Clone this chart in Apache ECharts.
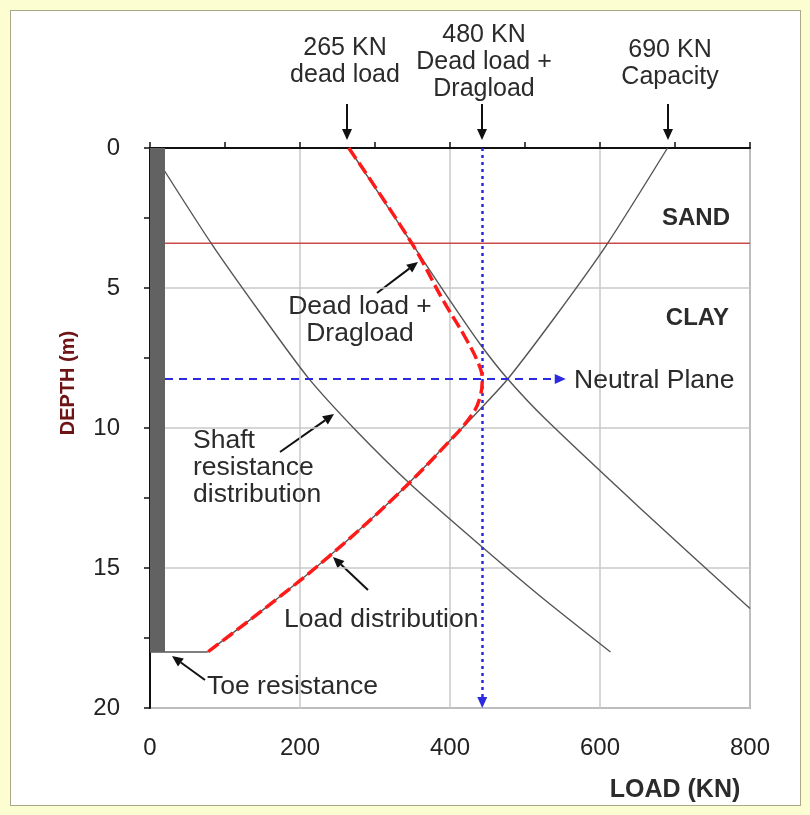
<!DOCTYPE html>
<html>
<head>
<meta charset="utf-8">
<script src="https://cdn.jsdelivr.net/npm/echarts@6/dist/echarts.min.js"></script>
<style>
  body { margin: 0; background: #fdfdd2; }
  #panel { position: absolute; left: 10px; top: 10px; width: 791px; height: 796px; background: #fff; border: 1.5px solid #a9a98a; box-sizing: border-box; }
  #chart { position: absolute; left: 0; top: 0; width: 810px; height: 815px; }
</style>
</head>
<body>
<div id="panel"></div>
<div id="chart"></div>
<script>
// axis ticks
const loadTicks = [0, 200, 400, 600, 800];
const depthTicks = [0, 5, 10, 15, 20];

// [load kN, depth m]
const pileShaft = [[10, 0], [10, 18]];
const toeLine = [[0, 18], [77, 18]];
const shaftResistance = [[0, 0], [83, 3.46], [150, 6], [211, 8.21], [274, 10.07], [347, 12], [432, 14], [520, 16], [614, 18]];
const deadPlusShaft = [[265, 0], [349, 3.4], [400, 5.45], [440, 7], [477, 8.25], [528, 9.7], [655, 12.9], [800, 16.45]];
const capacityCurve = [[690, 0], [609, 3.45], [541, 6], [477, 8.25], [443, 9.25], [400, 10.45], [325, 12.5], [238, 14.6], [160, 16.3], [77, 18]];
const loadDistribution = [[265, 0], [349, 3.4], [391, 5.45], [420, 6.75], [438, 7.7], [443, 8.25], [440, 8.9], [430, 9.5], [400, 10.45], [325, 12.5], [238, 14.6], [160, 16.3], [77, 18]];

const sandClayDepth = 3.4;
const neutralDepth = 8.25;
const maxLoad = 443;
const neutralArrowEnd = 547;

const FONT = "'Liberation Sans', Arial, sans-serif";
const TXT = '#2b2b2b';

function label(text, x, y, opts = {}) {
  return {
    type: 'text', x, y, z: 50,
    rotation: opts.rotation || 0,
    style: {
      text, fill: opts.color || TXT,
      font: `${opts.bold ? 'bold ' : ''}${opts.size || 26.5}px ${FONT}`,
      align: opts.align || 'center', verticalAlign: 'middle',
      lineHeight: opts.lineHeight || 27
    }
  };
}

// little black pointer arrow for the annotations
function pointer(x1, y1, x2, y2) {
  const a = Math.atan2(y2 - y1, x2 - x1);
  const len = 11, half = 5;
  const bx = x2 - len * Math.cos(a), by = y2 - len * Math.sin(a);
  const px = -Math.sin(a) * half, py = Math.cos(a) * half;
  return {
    type: 'group', z: 50,
    children: [
      { type: 'line', shape: { x1, y1, x2: bx, y2: by }, style: { stroke: '#111', lineWidth: 2 } },
      { type: 'polygon', shape: { points: [[x2, y2], [bx + px, by + py], [bx - px, by - py]] }, style: { fill: '#111' } }
    ]
  };
}

const chart = echarts.init(document.getElementById('chart'));

const grayLine = { color: '#555', width: 1.4 };

const option = {
  animation: false,
  backgroundColor: 'transparent',
  grid: { left: 150, top: 148, width: 600, height: 560, show: true, borderColor: '#7a7a7a', borderWidth: 1.5, backgroundColor: '#fff' },
  xAxis: [
    {
      type: 'value', position: 'bottom', min: loadTicks[0], max: loadTicks[loadTicks.length - 1], interval: 200,
      axisLine: { show: true, lineStyle: { color: '#7a7a7a', width: 1.5 } },
      axisTick: { show: false },
      axisLabel: { fontSize: 24, fontFamily: FONT, color: '#222', margin: 28 },
      splitLine: { show: true, lineStyle: { color: '#c9c9c9', width: 1.5 } }
    },
    {
      type: 'value', position: 'top', min: 0, max: 800, interval: 100,
      axisLine: { show: true, lineStyle: { color: '#111', width: 2 } },
      axisTick: { show: true, length: 6, lineStyle: { color: '#111', width: 1.5 } },
      axisLabel: { show: false },
      splitLine: { show: false }
    }
  ],
  yAxis: {
    type: 'value', inverse: true, min: depthTicks[0], max: depthTicks[depthTicks.length - 1], interval: 5,
    axisLine: { show: true, lineStyle: { color: '#111', width: 2 } },
    axisTick: { show: true, length: 6, lineStyle: { color: '#111', width: 1.5 } },
    minorTick: { show: true, splitNumber: 2, length: 6, lineStyle: { color: '#111', width: 1.5 } },
    axisLabel: { fontSize: 24, fontFamily: FONT, color: '#222', margin: 30 },
    splitLine: { show: true, lineStyle: { color: '#c9c9c9', width: 1.5 } }
  },
  series: [
    {
      name: 'Sand/Clay', type: 'line', data: [[20, sandClayDepth], [800, sandClayDepth]],
      symbol: 'none', lineStyle: { color: '#cc4a4a', width: 1.5 }, z: 3
    },
    { name: 'Shaft resistance', type: 'line', data: shaftResistance, smooth: 0.25, symbol: 'none', lineStyle: grayLine, z: 4 },
    { name: 'Dead load + shaft', type: 'line', data: deadPlusShaft, smooth: 0.25, symbol: 'none', lineStyle: grayLine, z: 4 },
    { name: 'Capacity', type: 'line', data: capacityCurve, smooth: 0.25, symbol: 'none', lineStyle: grayLine, z: 4 },
    { name: 'Toe', type: 'line', data: toeLine, symbol: 'none', lineStyle: grayLine, z: 4 },
    {
      name: 'Load distribution', type: 'line', data: loadDistribution, smooth: 0.4, symbol: 'none',
      lineStyle: { color: '#ff1a1a', width: 3.5, type: [13, 5] }, z: 5
    },
    {
      name: 'Neutral plane', type: 'line', data: [], z: 6,
      markLine: {
        silent: true, animation: false, label: { show: false },
        symbol: ['none', 'triangle'], symbolSize: [10, 11],
        data: [
          [{ coord: [maxLoad, 0], lineStyle: { color: '#2a2ae0', width: 2.5, type: [3, 4] } }, { coord: [maxLoad, 19.8] }],
          [{ coord: [20, neutralDepth], lineStyle: { color: '#2a2ae0', width: 2, type: [8, 6] } }, { coord: [neutralArrowEnd, neutralDepth] }]
        ]
      }
    },
    {
      name: 'Pile', type: 'line', data: pileShaft, symbol: 'none',
      lineStyle: { color: '#626262', width: 15 }, z: 8
    }
  ],
  graphic: [
    label('265 KN\ndead load', 345, 62, { size: 25 }),
    label('480 KN\nDead load +\nDragload', 484, 62, { size: 25 }),
    label('690 KN\nCapacity', 670, 64, { size: 25 }),
    pointer(347, 104, 347, 140),
    pointer(482, 104, 482, 140),
    pointer(668, 104, 668, 140),
    label('SAND', 730, 218, { bold: true, align: 'right', size: 24 }),
    label('CLAY', 729, 318, { bold: true, align: 'right', size: 24 }),
    label('Dead load +\nDragload', 360, 320),
    pointer(377, 293, 418, 262),
    label('Neutral Plane', 574, 381, { align: 'left' }),
    label('Shaft\nresistance\ndistribution', 193, 468, { align: 'left' }),
    pointer(280, 452, 334, 414),
    label('Load distribution', 284, 620, { align: 'left' }),
    pointer(368, 590, 333, 557),
    label('Toe resistance', 207, 687, { align: 'left' }),
    pointer(205, 680, 172, 656),
    label('LOAD (KN)', 675, 790, { bold: true, size: 25 }),
    label('DEPTH (m)', 68, 383, { bold: true, size: 20, color: '#6e1414', rotation: Math.PI / 2 })
  ]
};

chart.setOption(option);
</script>
</body>
</html>
